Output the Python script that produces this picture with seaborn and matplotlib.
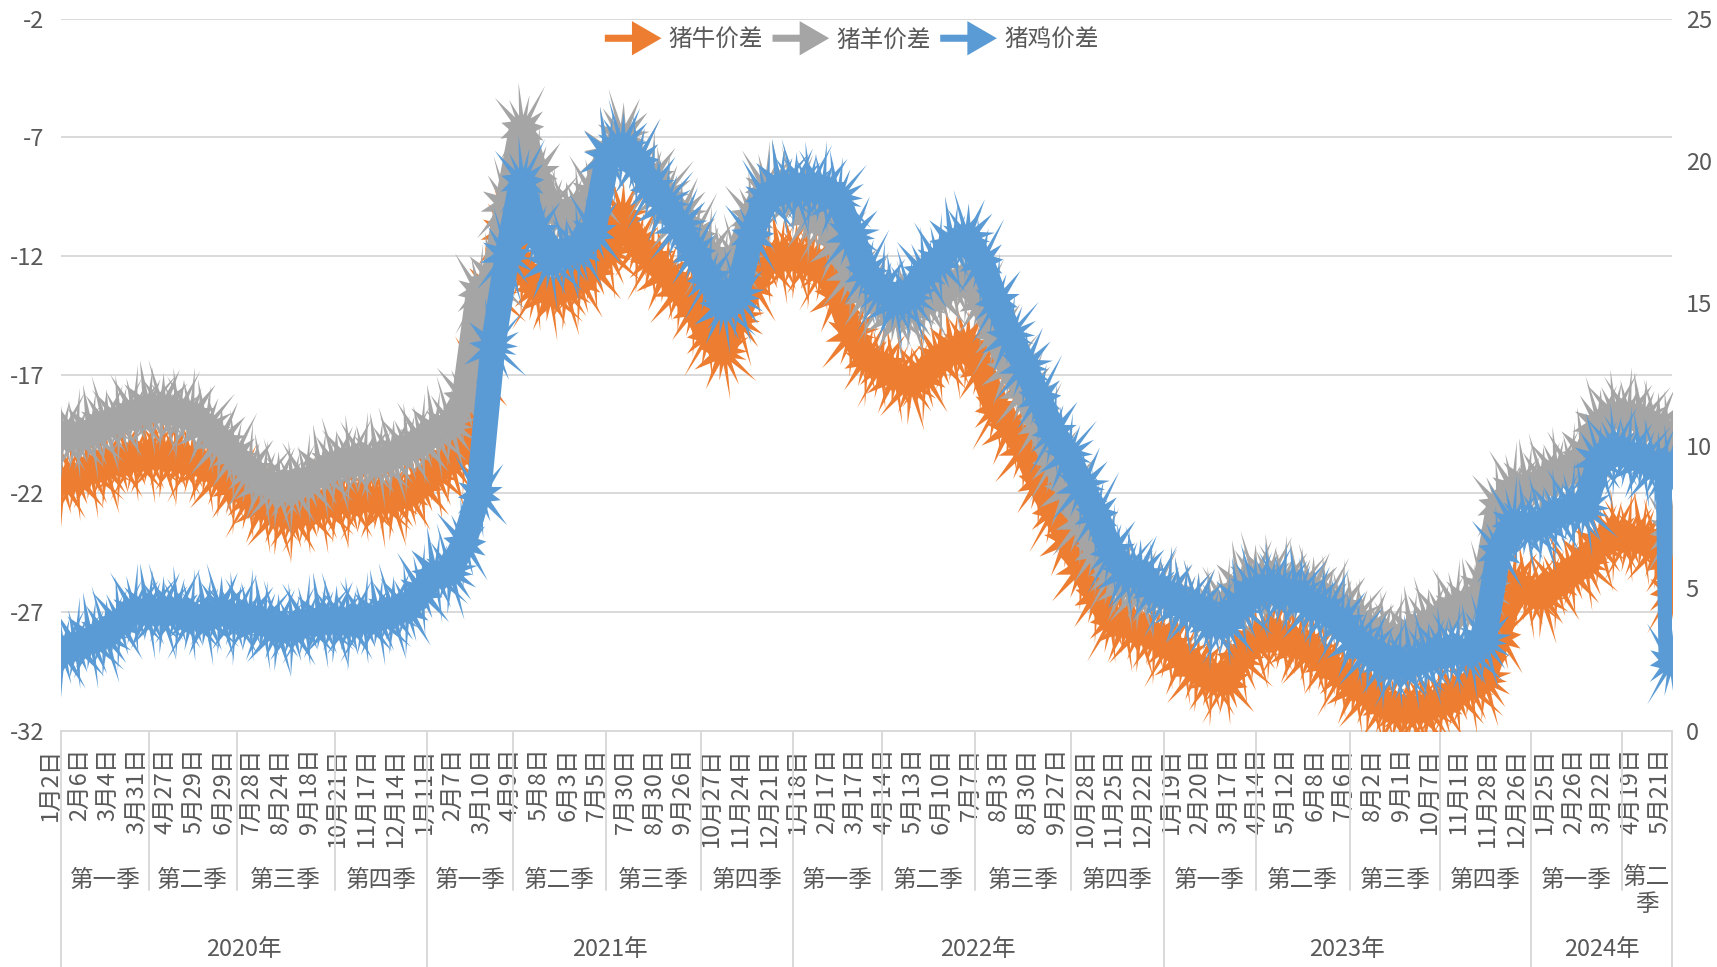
import numpy as np
import pandas as pd
import matplotlib
matplotlib.use("Agg")
import matplotlib.pyplot as plt
import matplotlib.transforms as mtransforms
from matplotlib.lines import Line2D
from matplotlib.path import Path
from matplotlib.markers import MarkerStyle
from matplotlib.patches import FancyArrow
from matplotlib.legend_handler import HandlerBase
import seaborn as sns

# ---------------- data ----------------
date_labels = ["1月2日", "2月6日", "3月4日", "3月31日", "4月27日", "5月29日", "6月29日",
               "7月28日", "8月24日", "9月18日", "10月21日", "11月17日", "12月14日",
               "1月11日", "2月7日", "3月10日", "4月9日", "5月8日", "6月3日", "7月5日",
               "7月30日", "8月30日", "9月26日", "10月27日", "11月24日", "12月21日",
               "1月18日", "2月17日", "3月17日", "4月14日", "5月13日", "6月10日", "7月7日",
               "8月3日", "8月30日", "9月27日", "10月28日", "11月25日", "12月22日",
               "1月19日", "2月20日", "3月17日", "4月14日", "5月12日", "6月8日", "7月6日",
               "8月2日", "9月1日", "10月7日", "11月1日", "11月28日", "12月26日",
               "1月25日", "2月26日", "3月22日", "4月19日", "5月21日"]
label_every = 19          # one date label every 19 working days
n_days = 1065             # working days in the series

quarter_names = ["第一季", "第二季", "第三季", "第四季"] * 4 + ["第一季", "第二季"]
quarter_start = [0, 58, 116, 181, 242, 299, 360, 423, 484, 543, 604, 668,
                 729, 790, 852, 912, 972, 1032]
year_names = ["2020年", "2021年", "2022年", "2023年", "2024年"]
year_start = [0, 242, 484, 729, 972]

# values read every half label step (9.5 days), plus the last two days
sample_idx = list(np.arange(0, 1064, 9.5)) + [1062, 1064]

niu = [-21.5, -21.3, -21.0, -20.8, -20.6, -20.5, -20.4, -20.4, -20.5, -20.6,
       -20.8, -21.2, -21.7, -22.1, -22.5, -22.8, -22.9, -22.7, -22.5, -22.3,
       -22.3, -22.2, -22.3, -22.2, -22.0, -21.6, -21.1, -20.6, -20.0, -17.0,
       -13.5, -11.0, -12.5, -13.3, -13.5, -13.3, -13.0, -12.5, -11.8, -10.3,
       -11.5, -12.1, -12.7, -13.4, -14.2, -15.3, -16.0, -14.6, -13.2, -12.2,
       -12.0, -12.0, -12.2, -12.5, -13.6, -15.3, -16.3, -16.6, -17.0, -17.3,
       -17.0, -16.3, -16.0, -15.8, -16.7, -18.4, -19.2, -20.1, -21.5, -22.7,
       -23.9, -25.1, -26.3, -27.3, -27.5, -27.7, -28.0, -28.4, -28.9, -29.4,
       -29.8, -29.9, -28.9, -28.2, -27.9, -28.0, -28.4, -28.6, -29.1, -29.6,
       -30.1, -30.4, -30.9, -31.1, -31.1, -31.0, -30.8, -30.4, -30.1, -29.8,
       -28.0, -25.8, -26.1, -26.3, -25.8, -25.3, -24.9, -24.1, -23.7, -23.9,
       -23.9, -24.2, -24.8, -26.1]

yang = [-19.5, -19.6, -19.4, -19.1, -18.9, -18.6, -18.4, -18.4, -18.6, -18.7,
        -19.2, -19.8, -20.4, -21.0, -21.5, -21.7, -21.7, -21.5, -21.1, -20.8,
        -20.6, -20.6, -20.6, -20.4, -20.1, -19.8, -19.4, -19.1, -18.0, -13.5,
        -13.0, -9.8, -6.6, -8.5, -10.0, -10.3, -10.1, -9.4, -7.7, -7.0,
        -8.0, -8.7, -9.4, -10.3, -11.1, -11.9, -12.6, -12.2, -10.3, -9.2,
        -9.1, -9.4, -10.3, -10.5, -11.5, -12.7, -13.6, -13.9, -14.4, -14.2,
        -13.9, -13.6, -13.2, -13.0, -13.9, -15.3, -16.7, -17.7, -19.1, -20.6,
        -21.8, -23.2, -24.4, -25.3, -25.8, -26.0, -26.1, -26.3, -26.7, -26.8,
        -27.0, -26.7, -26.0, -25.6, -25.6, -25.8, -26.0, -26.1, -26.5, -26.8,
        -27.3, -27.7, -28.0, -28.2, -27.9, -27.5, -27.2, -26.8, -26.7, -26.0,
        -22.5, -21.8, -21.7, -21.5, -21.1, -21.0, -20.4, -19.1, -18.7, -18.7,
        -18.9, -19.2, -19.6, -23.6]

ji = [2.8, 3.0, 3.2, 3.4, 3.8, 4.2, 4.2, 4.2, 4.2, 4.0,
      4.0, 4.2, 4.0, 4.0, 3.8, 3.6, 3.6, 3.8, 3.9, 3.9,
      3.8, 3.9, 4.0, 4.2, 4.3, 4.9, 5.5, 5.6, 6.6, 8.3,
      13.5, 16.7, 19.3, 17.5, 16.5, 16.8, 16.9, 17.5, 20.2, 20.5,
      20.0, 19.1, 18.5, 17.7, 16.8, 15.9, 14.9, 15.3, 17.4, 18.7,
      19.1, 19.1, 19.1, 19.0, 18.7, 17.4, 16.1, 15.5, 15.1, 15.3,
      16.1, 16.5, 17.1, 17.3, 16.5, 15.1, 13.9, 12.8, 11.7, 10.5,
      9.7, 8.6, 7.6, 6.3, 5.6, 5.5, 5.0, 4.8, 4.4, 4.3,
      3.8, 3.8, 4.4, 4.9, 5.0, 4.9, 4.8, 4.4, 4.2, 3.8,
      3.2, 2.8, 2.4, 2.3, 2.4, 2.6, 2.8, 2.8, 2.8, 3.2,
      6.3, 7.3, 7.2, 7.3, 7.6, 7.8, 7.8, 9.5, 9.9, 9.7,
      9.5, 9.3, 9.2, 2.4]

df = pd.DataFrame({"idx": sample_idx, "猪牛价差": niu, "猪羊价差": yang, "猪鸡价差": ji})

# ---------------- style ----------------
sns.set_theme(style="white")
plt.rcParams["font.family"] = ["Noto Sans CJK SC", "DejaVu Sans"]
plt.rcParams["axes.unicode_minus"] = False

txt = "#595959"
grid_c = "#D9D9D9"
colors = {"猪牛价差": "#ED7D31", "猪羊价差": "#A5A5A5", "猪鸡价差": "#5B9BD5"}
fs = 17

# spike layouts (angle, length) that imitate excel's arrow-ends on every point
spike_sets = [
    [(5, 0.45), (40, 0.55), (62, 1.0), (78, 0.7), (95, 0.95), (115, 0.65), (132, 0.85),
     (165, 0.45), (205, 0.5), (235, 0.8), (253, 0.6), (268, 1.0), (285, 0.7),
     (302, 0.9), (330, 0.5)],
    [(18, 0.5), (52, 0.8), (70, 0.6), (86, 1.0), (103, 0.75), (122, 0.95), (150, 0.5),
     (188, 0.45), (222, 0.6), (240, 1.0), (258, 0.7), (275, 0.9), (292, 0.6),
     (312, 0.85), (345, 0.45)],
    [(0, 0.5), (30, 0.6), (50, 0.9), (68, 0.65), (84, 0.85), (100, 1.0), (135, 0.7),
     (172, 0.5), (212, 0.7), (245, 0.85), (262, 0.6), (278, 1.0), (295, 0.75),
     (318, 0.9), (340, 0.5)],
    [(12, 0.55), (45, 0.7), (66, 0.85), (88, 0.7), (106, 1.0), (124, 0.7), (152, 0.55),
     (195, 0.55), (228, 0.9), (248, 0.65), (266, 0.85), (286, 1.0), (306, 0.7),
     (328, 0.6), (352, 0.45)],
]


def spike_marker(tips):
    verts = []
    for k, (a, r) in enumerate(tips):
        a2 = tips[(k + 1) % len(tips)][0] + (360 if k == len(tips) - 1 else 0)
        t = np.deg2rad(a)
        m = np.deg2rad((a + a2) / 2)
        verts.append((r * np.cos(t), r * np.sin(t)))
        verts.append((0.27 * np.cos(m), 0.27 * np.sin(m)))
    verts.append(verts[0])
    codes = [Path.MOVETO] + [Path.LINETO] * (len(verts) - 2) + [Path.CLOSEPOLY]
    return MarkerStyle(Path(verts, codes))


markers = [spike_marker(s) for s in spike_sets]

fig = plt.figure(figsize=(17.17, 9.67), dpi=100)
ax = fig.add_axes([0.0356, 0.2444, 0.9381, 0.7364])
ax2 = ax.twinx()


def draw(a, col, z):
    sns.lineplot(data=df, x="idx", y=col, ax=a, color=colors[col], linewidth=18,
                 legend=False, sort=False, zorder=z,
                 solid_joinstyle="round", solid_capstyle="round")
    n = len(markers)
    for k, m in enumerate(markers):
        a.plot(df["idx"][k::n], df[col][k::n], ls="none", marker=m, ms=70,
               mfc=colors[col], mec="none", zorder=z)


draw(ax, "猪牛价差", 3)
draw(ax, "猪羊价差", 4)
draw(ax2, "猪鸡价差", 5)

ax.set_xlim(-0.5, n_days - 0.5)
ax.set_ylim(-32, -2)
ax2.set_ylim(0, 25)
ax.set_yticks(range(-32, -1, 5))
ax.set_yticklabels([str(v) for v in range(-32, -1, 5)])
ax2.set_yticks(range(0, 26, 5))
ax.set_xlabel("")
ax.set_ylabel("")
ax2.set_ylabel("")
ax.yaxis.grid(True, color=grid_c, lw=1.4)
ax.set_axisbelow(True)
for s in ["top", "left", "right"]:
    ax.spines[s].set_visible(False)
for s in ax2.spines.values():
    s.set_visible(False)
ax.spines["bottom"].set_color(grid_c)
ax.spines["bottom"].set_linewidth(1.4)

ax.tick_params(axis="y", length=0, pad=12, labelsize=fs, labelcolor=txt)
ax2.tick_params(axis="y", length=0, pad=10, labelsize=fs, labelcolor=txt)

ax.set_xticks([label_every * i for i in range(len(date_labels))])
ax.set_xticklabels(date_labels, rotation=90)
ax.tick_params(axis="x", length=0, pad=12, labelsize=fs, labelcolor=txt)
for lb in ax.get_xticklabels():
    lb.set_ha("right")

# multi-level category axis
trans = mtransforms.blended_transform_factory(ax.transData, fig.transFigure)
y_axis = 0.2444
y_qline = 1 - 890 / 967
bounds = quarter_start + [n_days]
for k, name in enumerate(quarter_names):
    c = (bounds[k] + bounds[k + 1] - 1) / 2
    if bounds[k + 1] - bounds[k] < 45:
        # too narrow: excel wraps the label onto a second line
        ax.text(c, 1 - 866 / 967, name[:2] + "\n" + name[2:], transform=trans,
                ha="center", va="top", fontsize=fs, color=txt, linespacing=1.2)
    else:
        ax.text(c, 1 - 880 / 967, name, transform=trans, ha="center", va="center",
                fontsize=fs, color=txt)
for b in bounds:
    bot = 0.0 if (b in year_start or b == n_days) else y_qline
    ax.add_line(Line2D([b - 0.5, b - 0.5], [y_axis, bot], transform=trans,
                       color=grid_c, lw=1.4, clip_on=False))
ybounds = year_start + [n_days]
for k, name in enumerate(year_names):
    c = (ybounds[k] + ybounds[k + 1] - 1) / 2
    ax.text(c, 1 - 950 / 967, name, transform=trans, ha="center", va="center",
            fontsize=fs, color=txt)


# legend with arrow handles
class ArrowHandler(HandlerBase):
    def create_artists(self, legend, orig_handle, xdescent, ydescent, width,
                       height, fontsize, trans):
        y = height / 2 - ydescent
        arr = FancyArrow(-xdescent, y, width, 0, width=0.3 * fontsize,
                         head_width=1.45 * fontsize, head_length=1.25 * fontsize,
                         length_includes_head=True, color=orig_handle.get_color(),
                         lw=0, transform=trans)
        return [arr]


handles = [Line2D([], [], color=colors[c]) for c in colors]
fig.legend(handles, list(colors), loc="center", bbox_to_anchor=(0.496, 1 - 40 / 967),
           ncol=3, frameon=False, handlelength=2.4, handletextpad=0.3,
           columnspacing=0.4, fontsize=fs, labelcolor=txt,
           handler_map={h: ArrowHandler() for h in handles})

fig.savefig("out.png", dpi=100)
